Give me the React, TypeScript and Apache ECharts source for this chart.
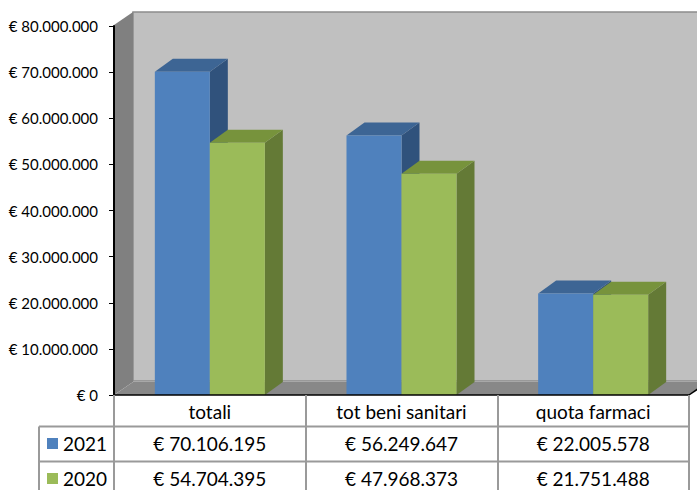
import React, { useEffect, useRef } from "react";
import * as echarts from "echarts";

const categories = ["totali", "tot beni sanitari", "quota farmaci"];
const seriesNames = ["2021", "2020"];
const values2021 = [70106195, 56249647, 22005578];
const values2020 = [54704395, 47968373, 21751488];
const yTicks = { min: 0, max: 80000000, interval: 10000000 };

const FONT = "Lato, 'Open Sans', sans-serif";
const COLORS = {
  blue: { front: "#4F81BD", top: "#3D6594", side: "#30527C" },
  green: { front: "#9BBB59", top: "#77933C", side: "#647A36" },
};
const DX = 18;
const DY = -13;
const WDX = 19;
const WDY = -13;

const fmt = (v: number) => "€ " + String(Math.round(v)).replace(/\B(?=(\d{3})+(?!\d))/g, ".");

function barRenderer(side: "left" | "right", c: { front: string; top: string; side: string }) {
  return (params: any, api: any) => {
    const cat = api.value(0);
    const v = api.value(1);
    const top = api.coord([cat, v]);
    const base = api.coord([cat, 0]);
    const band = api.size([1, 0])[0];
    const w = band * 0.287;
    const x0 = side === "left" ? top[0] - w : top[0];
    const x1 = x0 + w;
    const yT = top[1];
    const yB = base[1];
    return {
      type: "group",
      children: [
        {
          type: "polygon",
          shape: { points: [[x1, yB], [x1 + DX, yB + DY], [x1 + DX, yT + DY], [x1, yT]] },
          style: { fill: c.side },
        },
        {
          type: "polygon",
          shape: { points: [[x0, yT], [x0 + DX, yT + DY], [x1 + DX, yT + DY], [x1, yT]] },
          style: { fill: c.top },
        },
        {
          type: "rect",
          shape: { x: x0, y: yT, width: w, height: yB - yT },
          style: { fill: c.front },
        },
      ],
    };
  };
}

function wallsRenderer(params: any) {
  const cs = params.coordSys;
  const x = cs.x, y = cs.y, w = cs.width, h = cs.height;
  const yb = y + h;
  return {
    type: "group",
    children: [
      {
        type: "rect",
        shape: { x: x + WDX, y: y + WDY - 1, width: w + 40, height: h },
        style: { fill: "#C0C0C0", stroke: "#8C8C8C", lineWidth: 1.5 },
      },
      {
        type: "polygon",
        shape: { points: [[x, y - 1], [x + WDX, y + WDY - 1], [x + WDX, yb + WDY], [x, yb]] },
        style: { fill: "#808080" },
      },
      {
        type: "polygon",
        shape: { points: [[x, yb], [x + WDX, yb + WDY], [x + w + WDX, yb + WDY], [x + w, yb]] },
        style: { fill: "#888888" },
      },
      {
        type: "line",
        shape: { x1: x + w, y1: yb, x2: x + w + WDX, y2: yb + WDY },
        style: { stroke: "#000", lineWidth: 1.5 },
      },
    ],
  };
}

const ROW1_Y = 443.5;
const ROW2_Y = 478.5;
const LINE1_Y = 426.5;
const LINE2_Y = 461.5;
const LEGEND_COL_W = 75;

function tableRenderer(params: any, api: any) {
  const cs = params.coordSys;
  const cat = api.value(0);
  const cx = api.coord([cat, 0])[0];
  const textStyle = (t: string, y: number) => ({
    type: "text",
    x: cx,
    y,
    style: {
      text: t,
      fill: "#000",
      fontSize: 19,
      fontFamily: FONT,
      align: "center",
      verticalAlign: "middle",
    },
  });
  const children: any[] = [textStyle(fmt(api.value(1)), ROW1_Y), textStyle(fmt(api.value(2)), ROW2_Y)];
  if (params.dataIndex === 0) {
    const lx = cs.x - LEGEND_COL_W;
    const rx = cs.x + cs.width;
    const ls = { stroke: "#9A9A9A", lineWidth: 2 };
    children.push(
      { type: "line", shape: { x1: lx, y1: LINE1_Y, x2: rx, y2: LINE1_Y }, style: ls },
      { type: "line", shape: { x1: lx, y1: LINE2_Y, x2: rx, y2: LINE2_Y }, style: ls },
      { type: "line", shape: { x1: lx, y1: LINE1_Y, x2: lx, y2: 500 }, style: ls }
    );
  }
  return { type: "group", children };
}

export default function App() {
  const ref = useRef<HTMLDivElement>(null);
  useEffect(() => {
    if (!ref.current) return;
    const chart = echarts.init(ref.current, undefined, { renderer: "svg" });
    chart.setOption({
      animation: false,
      grid: { left: 114, right: 8, top: 26, bottom: 95, containLabel: false },
      legend: {
        data: seriesNames,
        orient: "vertical",
        left: 47,
        top: 432.5,
        height: 80,
        padding: 0,
        icon: "rect",
        itemWidth: 11,
        itemHeight: 11,
        itemGap: 13,
        textStyle: { fontSize: 19, fontFamily: FONT, color: "#000", lineHeight: 22 },
        selectedMode: false,
      },
      xAxis: {
        type: "category",
        data: categories,
        z: 10,
        axisLine: { show: true, lineStyle: { color: "#000", width: 1.5 } },
        axisTick: { show: true, length: 100, interval: 0, lineStyle: { color: "#9A9A9A", width: 2 } },
        axisLabel: { margin: 5, fontSize: 19, fontFamily: FONT, color: "#000", lineHeight: 22, interval: 0 },
        splitLine: { show: false },
      },
      yAxis: {
        type: "value",
        min: yTicks.min,
        max: yTicks.max,
        interval: yTicks.interval,
        z: 10,
        axisLine: { show: true, lineStyle: { color: "#000", width: 2 } },
        axisTick: { show: true, length: 5, lineStyle: { color: "#000", width: 1 } },
        axisLabel: { margin: 16, fontSize: 15, fontFamily: FONT, color: "#000", formatter: (v: number) => fmt(v) },
        splitLine: { show: false },
      },
      series: [
        {
          name: "walls",
          type: "custom",
          clip: false,
          silent: true,
          z: 1,
          renderItem: wallsRenderer,
          data: [[0, 0]],
        },
        {
          name: seriesNames[0],
          type: "custom",
          clip: false,
          z: 2,
          itemStyle: { color: COLORS.blue.front },
          renderItem: barRenderer("left", COLORS.blue),
          data: values2021.map((v, i) => [i, v]),
        },
        {
          name: seriesNames[1],
          type: "custom",
          clip: false,
          z: 3,
          itemStyle: { color: COLORS.green.front },
          renderItem: barRenderer("right", COLORS.green),
          data: values2020.map((v, i) => [i, v]),
        },
        {
          name: "table",
          type: "custom",
          clip: false,
          silent: true,
          z: 4,
          renderItem: tableRenderer,
          data: categories.map((_, i) => [i, values2021[i], values2020[i]]),
        },
      ],
    });
    return () => chart.dispose();
  }, []);
  return <div ref={ref} style={{ position: "absolute", left: 0, top: 0, width: 697, height: 490 }} />;
}
